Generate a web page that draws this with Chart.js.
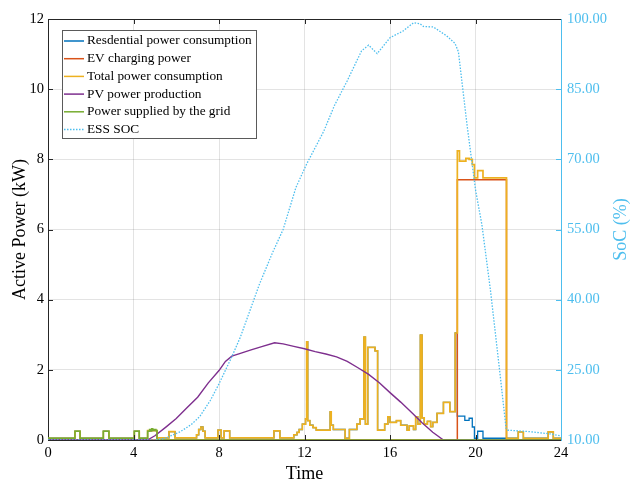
<!DOCTYPE html>
<html>
<head>
<meta charset="utf-8">
<script src="https://cdn.jsdelivr.net/npm/chart.js@4"></script>
<style>
  body { margin: 0; background: #fff; }
  #wrap { width: 633px; height: 483px; }
</style>
</head>
<body>
<div id="wrap"><canvas id="myChart" width="633" height="483"></canvas></div>
<script>
// household load (residential = total until the EV plugs in)
const loadTime = [0, 1.26, 1.5, 2.59, 2.85, 4.04, 4.27, 4.66, 5.1, 5.66, 5.94, 6.95, 7.05, 7.15, 7.25, 7.35,
  7.95, 8.1, 8.24, 8.5, 10.57, 10.85, 11.5, 11.65, 11.75, 11.9, 12.05, 12.1, 12.15, 12.25, 12.4, 12.55,
  13.2, 13.25, 13.35, 13.9, 14.1, 14.45, 14.6, 14.78, 14.85, 14.96, 15.3, 15.42, 15.75, 15.9, 16.0, 16.3,
  16.5, 16.8, 16.9, 17.1, 17.2, 17.3, 17.42, 17.5, 17.6, 17.75, 17.9, 18.0, 18.2, 18.5, 18.8, 19.05];
const loadKw = [0.05, 0.25, 0.05, 0.25, 0.05, 0.25, 0.05, 0.27, 0.06, 0.24, 0.06, 0.15, 0.3, 0.37, 0.25, 0.06,
  0.28, 0.06, 0.26, 0.06, 0.26, 0.06, 0.15, 0.22, 0.3, 0.45, 0.6, 2.8, 0.55, 0.42, 0.35, 0.28,
  0.8, 0.42, 0.3, 0.05, 0.3, 0.45, 0.6, 2.93, 0.45, 2.64, 2.54, 0.28, 0.45, 0.66, 0.5, 0.55,
  0.42, 0.28, 0.4, 0.3, 0.66, 0.45, 2.99, 0.63, 0.45, 0.53, 0.38, 0.5, 0.76, 1.07, 0.81, 3.05];

const resTailTime = [19.15, 19.5, 19.7, 19.85, 19.95, 20.1, 20.35, 21.45, 22.0, 22.24, 23.4, 23.64, 24];
const resTailKw = [0.68, 0.56, 0.62, 0.37, 0.05, 0.25, 0.05, 0.05, 0.23, 0.05, 0.23, 0.05, 0.05];

const totalTailTime = [19.15, 19.25, 19.55, 19.7, 19.85, 19.95, 20.1, 20.35, 21.45, 22.0, 22.24, 23.4, 23.64, 24];
const totalTailKw = [8.24, 7.95, 8.03, 8.0, 7.85, 7.47, 7.68, 7.47, 0.05, 0.23, 0.05, 0.23, 0.05, 0.05];

const evTime = [0, 19.15, 21.45, 24];
const evKw = [0, 7.42, 0, 0];

const pvTime = [0, 4.65, 5.0, 5.5, 6.0, 6.5, 7.0, 7.5, 8.0, 8.3, 8.6, 9.0, 9.5, 10.0, 10.6, 11.0, 11.5,
  12.0, 12.5, 13.0, 13.5, 14.0, 14.5, 15.0, 15.5, 16.0, 16.5, 17.0, 17.5, 18.0, 18.5, 24];
const pvKw = [0, 0, 0.12, 0.36, 0.61, 0.92, 1.22, 1.63, 1.98, 2.24, 2.39, 2.47, 2.57, 2.66, 2.77, 2.74, 2.67,
  2.6, 2.52, 2.45, 2.37, 2.24, 2.06, 1.87, 1.63, 1.35, 1.08, 0.79, 0.49, 0.22, 0, 0];

const gridTime = [0, 1.26, 1.5, 2.59, 2.85, 4.04, 4.27, 4.66, 4.75, 4.8, 4.85, 4.9, 4.97, 5.05, 5.1, 24];
const gridKw = [0.05, 0.25, 0.05, 0.25, 0.05, 0.25, 0.05, 0.25, 0.3, 0.26, 0.32, 0.28, 0.3, 0.27, 0, 0];

const socTime = [0, 5.0, 5.5, 6.2, 6.7, 7.1, 7.6, 8.0, 8.6, 9.0, 9.9, 10.5, 11.0, 11.4, 11.6, 12.1, 12.9,
  13.4, 14.0, 14.67, 15.0, 15.4, 16.0, 16.6, 17.1, 17.4, 17.56, 18.03, 18.65, 19.04, 19.2, 19.6, 20.0,
  20.3, 20.7, 21.15, 21.43, 21.5, 22.5, 23.5, 24];
const socPct = [10, 10, 10.4, 11.8, 13.3, 15, 18.5, 22, 27.8, 32, 43.4, 50, 55, 61, 64, 69, 76,
  81.5, 86.8, 93.2, 94.4, 92.6, 96, 97.4, 99.2, 99, 98.4, 98.3, 96.4, 94.8, 93, 77.5, 63.5,
  56, 42, 24, 12.5, 12.1, 11.8, 11.3, 10.9];

const timeTicks = [0, 4, 8, 12, 16, 20, 24];
const powerTicks = [0, 2, 4, 6, 8, 10, 12];
const socTicks = [10, 25, 40, 55, 70, 85, 100];

const serif = "'Liberation Serif', 'Times New Roman', serif";
const socBlue = '#4DBEEE';

function pts(xs, ys) {
  return xs.map((x, i) => ({x: x, y: ys[i]}));
}

// MATLAB-like frame: top border, inward ticks, legend box, right label
const framePlugin = {
  id: 'frame',
  afterDatasetsDraw(chart) {
    const ctx = chart.ctx;
    const a = chart.chartArea;
    const sx = chart.scales.x, sy = chart.scales.y, s2 = chart.scales.y2;
    ctx.save();
    ctx.lineWidth = 1;
    ctx.strokeStyle = '#262626';
    ctx.beginPath();
    ctx.moveTo(a.left, a.top + 0.5);
    ctx.lineTo(a.right, a.top + 0.5);
    timeTicks.slice(1, -1).forEach(t => {
      const px = Math.round(sx.getPixelForValue(t)) + 0.5;
      ctx.moveTo(px, a.bottom); ctx.lineTo(px, a.bottom - 5);
      ctx.moveTo(px, a.top); ctx.lineTo(px, a.top + 5);
    });
    powerTicks.slice(1, -1).forEach(v => {
      const py = Math.round(sy.getPixelForValue(v)) + 0.5;
      ctx.moveTo(a.left, py); ctx.lineTo(a.left + 5, py);
    });
    ctx.stroke();
    ctx.strokeStyle = socBlue;
    ctx.beginPath();
    socTicks.slice(1, -1).forEach(v => {
      const py = Math.round(s2.getPixelForValue(v)) + 0.5;
      ctx.moveTo(a.right, py); ctx.lineTo(a.right - 5, py);
    });
    ctx.stroke();

    // legend
    const lx = 62, ly = 30, lw = 194, lh = 108;
    ctx.fillStyle = '#fff';
    ctx.fillRect(lx, ly, lw, lh);
    ctx.strokeStyle = '#5a5a5a';
    ctx.strokeRect(lx + 0.5, ly + 0.5, lw, lh);
    ctx.font = '13.3px ' + serif;
    ctx.textBaseline = 'middle';
    chart.data.datasets.forEach((ds, i) => {
      const y = ly + 11 + i * 17.7;
      ctx.strokeStyle = ds.borderColor;
      ctx.lineWidth = 1.5;
      ctx.setLineDash(ds.borderDash || []);
      ctx.beginPath();
      ctx.moveTo(lx + 2, y); ctx.lineTo(lx + 22, y);
      ctx.stroke();
      ctx.setLineDash([]);
      ctx.fillStyle = '#000';
      ctx.fillText(ds.label, lx + 25, y);
    });

    // right axis title
    ctx.translate(621, (a.top + a.bottom) / 2);
    ctx.rotate(-Math.PI / 2);
    ctx.font = '18px ' + serif;
    ctx.fillStyle = socBlue;
    ctx.textAlign = 'center';
    ctx.fillText('SoC (%)', 0, 0);
    ctx.restore();
  }
};

new Chart('myChart', {
  type: 'line',
  data: {
    datasets: [
      {label: 'Resdential power consumption', data: pts(loadTime.concat(resTailTime), loadKw.concat(resTailKw)),
        borderColor: '#0072BD', borderWidth: 1.3, stepped: true, order: 6, yAxisID: 'y'},
      {label: 'EV charging power', data: pts(evTime, evKw),
        borderColor: '#D95319', borderWidth: 1.5, stepped: true, order: 5, yAxisID: 'y'},
      {label: 'Total power consumption', data: pts(loadTime.concat(totalTailTime), loadKw.concat(totalTailKw)),
        borderColor: '#EDB120', borderWidth: 1.7, stepped: true, order: 4, yAxisID: 'y'},
      {label: 'PV power production', data: pts(pvTime, pvKw),
        borderColor: '#7E2F8E', borderWidth: 1.4, order: 3, yAxisID: 'y'},
      {label: 'Power supplied by the grid', data: pts(gridTime, gridKw),
        borderColor: '#77AC30', borderWidth: 1.5, stepped: true, order: 2, yAxisID: 'y'},
      {label: 'ESS SOC', data: pts(socTime, socPct),
        borderColor: socBlue, borderWidth: 1.3, borderDash: [1.5, 1.5], order: 1, yAxisID: 'y2'}
    ]
  },
  options: {
    responsive: false,
    animation: false,
    layout: {padding: {top: 19, left: 0, right: 0, bottom: 0}},
    elements: {point: {radius: 0}, line: {tension: 0}},
    plugins: {legend: {display: false}, tooltip: {enabled: false}},
    scales: {
      x: {
        type: 'linear', min: 0, max: 24,
        afterBuildTicks: s => { s.ticks = timeTicks.map(v => ({value: v})); },
        afterFit: s => { s.height = 43; },
        ticks: {color: '#000', padding: 4, font: {family: serif, size: 14.5}},
        grid: {color: 'rgba(38,38,38,0.13)', drawTicks: false},
        border: {color: '#262626'},
        title: {display: true, text: 'Time', color: '#000', padding: 0,
          font: {family: serif, size: 18, lineHeight: 1}}
      },
      y: {
        position: 'left', min: 0, max: 12,
        afterBuildTicks: s => { s.ticks = powerTicks.map(v => ({value: v})); },
        afterFit: s => { s.width = 48; },
        ticks: {color: '#000', padding: 4, font: {family: serif, size: 14.5}},
        grid: {color: 'rgba(38,38,38,0.13)', drawTicks: false},
        border: {color: '#262626'},
        title: {display: true, text: 'Active Power (kW)', color: '#000', padding: {top: 9, bottom: 0},
          font: {family: serif, size: 18}}
      },
      y2: {
        position: 'right', min: 10, max: 100,
        afterBuildTicks: s => { s.ticks = socTicks.map(v => ({value: v})); },
        afterFit: s => { s.width = 72; },
        ticks: {color: socBlue, padding: 6, font: {family: serif, size: 14.5},
          callback: v => v.toFixed(2)},
        grid: {drawOnChartArea: false, drawTicks: false},
        border: {color: socBlue}
      }
    }
  },
  plugins: [framePlugin]
});
</script>
</body>
</html>
